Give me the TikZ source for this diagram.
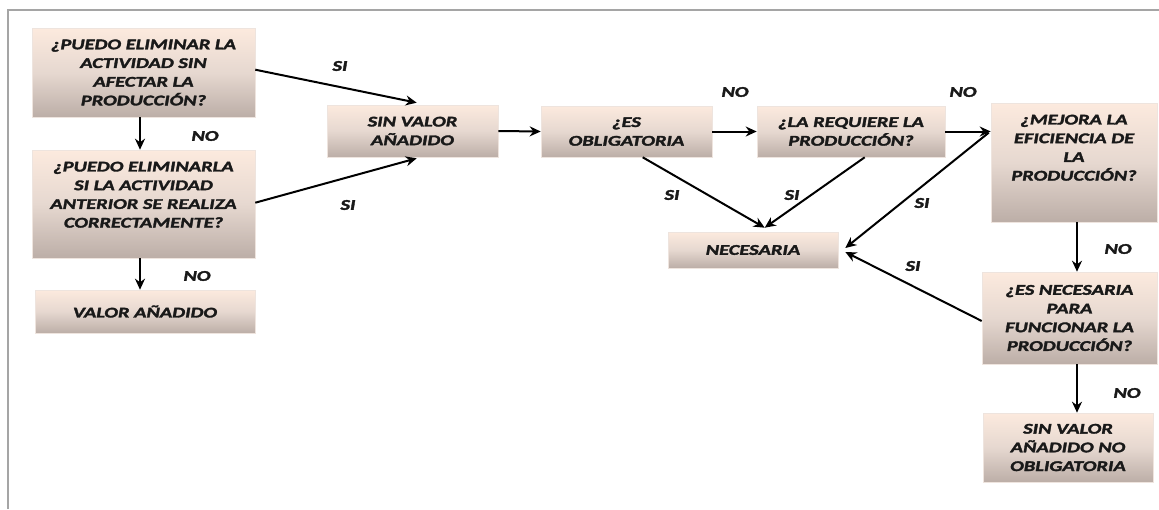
\documentclass[tikz,border=0pt]{standalone}
\usepackage{fontspec}
\newfontfamily\boxfont{Carlito}[FakeStretch=1.38,FakeBold=2.2,UprightFont={* Bold Italic}]
\usetikzlibrary{arrows.meta,calc}
\definecolor{boxtop}{RGB}{252,234,222}
\definecolor{boxmid}{RGB}{230,216,208}
\definecolor{boxbot}{RGB}{188,174,167}
\definecolor{txt}{RGB}{25,25,25}
\definecolor{frame}{RGB}{165,165,165}
\begin{document}
\begin{tikzpicture}[x=1pt,y=-1pt,
  box/.style={rectangle,inner sep=0pt,align=center,
    top color=boxtop,bottom color=boxbot,middle color=boxmid,
    draw={rgb,255:red,238;green,228;blue,222},line width=0.6pt,
    text=txt,font=\boxfont\fontsize{14.8}{18.7}\selectfont},
  lbl/.style={inner sep=0pt,text=txt,font=\boxfont\fontsize{14.8}{18.7}\selectfont},
  conn/.style={line width=2pt,draw=black,-{Stealth[length=11pt,width=10pt]}}]
\useasboundingbox (0,0) rectangle (1159,509);
\fill[white] (0,0) rectangle (1159,509);
\draw[frame,line width=2pt] (8,509) -- (8,10) -- (1159,10);
% boxes
\node[box,minimum width=223pt,minimum height=89pt] (A) at (143.5,72.5)
  {¿PUEDO ELIMINAR LA\\ACTIVIDAD SIN\\AFECTAR LA\\PRODUCCIÓN?};
\node[box,minimum width=223pt,minimum height=108pt] (B) at (143.5,204)
  {¿PUEDO ELIMINARLA\\SI LA ACTIVIDAD\\ANTERIOR SE REALIZA\\CORRECTAMENTE?\\\mbox{}};
\node[box,minimum width=220pt,minimum height=43pt] (C) at (145,311.5) {VALOR AÑADIDO};
\node[box,minimum width=171pt,minimum height=52pt] (D) at (412.5,131) {SIN VALOR\\AÑADIDO};
\node[box,minimum width=171pt,minimum height=51pt] (E) at (626.5,131.5) {¿ES\\OBLIGATORIA};
\node[box,minimum width=170pt,minimum height=36pt] (F) at (753,250) {NECESARIA};
\node[box,minimum width=188pt,minimum height=51pt] (G) at (851,131.5) {¿LA REQUIERE LA\\PRODUCCIÓN?};
\node[box,minimum width=166pt,minimum height=119pt] (H) at (1074,162.5)
  {¿MEJORA LA\\EFICIENCIA DE\\LA\\PRODUCCIÓN?\\[11pt]\mbox{}};
\node[box,minimum width=175pt,minimum height=92pt] (I) at (1069.5,318)
  {¿ES NECESARIA\\PARA\\FUNCIONAR LA\\PRODUCCIÓN?};
\node[box,minimum width=170pt,minimum height=69pt] (J) at (1068,447.5)
  {SIN VALOR\\AÑADIDO NO\\OBLIGATORIA};
% connectors
\draw[conn] ($(A.south)+(-3.5,0)$) -- ($(B.north)+(-3.5,0)$);
\draw[conn] ($(B.south)+(-3.5,0)$) -- ($(C.north)+(-5,0)$);
\draw[conn] ($(A.north east)+(0,42)$) -- ($(D.north west)+(90,-2)$);
\draw[conn] ($(B.north east)+(0,53)$) -- ($(D.south west)+(90,1)$);
\draw[conn] (D.east) -- (E.west);
\draw[conn] (E.east) -- (G.west);
\draw[conn] (G.east) -- (G.east -| H.west);
\draw[conn] ($(E.south west)+(102,0)$) -- ($(F.north west)+(97,-4)$);
\draw[conn] ($(G.south west)+(108,0)$) -- ($(F.north west)+(97,-4)$);
\draw[conn] ($(H.north west)+(-2,30)$) -- ($(F.east)+(7,-2)$);
\draw[conn] ($(I.west)+(0,3)$) -- ($(F.east)+(7,2)$);
\draw[conn] ($(H.south)+(3,0)$) -- ($(I.north)+(7.5,0)$);
\draw[conn] ($(I.south)+(7.5,0)$) -- ($(J.north)+(9,0)$);
% labels
\node[lbl] (l1) at (340,66) {SI};
\node[lbl] (l2) at (348,205) {SI};
\node[lbl] (l3) at (205,136) {NO};
\node[lbl] (l4) at (197,276) {NO};
\node[lbl] (l5) at (735,92) {NO};
\node[lbl] (l6) at (963,92) {NO};
\node[lbl] (l7) at (672,195) {SI};
\node[lbl] (l8) at (792,195) {SI};
\node[lbl] (l9) at (922,203) {SI};
\node[lbl] (l10) at (913,266) {SI};
\node[lbl] (l11) at (1118,249) {NO};
\node[lbl] (l12) at (1127,393) {NO};
\end{tikzpicture}
\end{document}
